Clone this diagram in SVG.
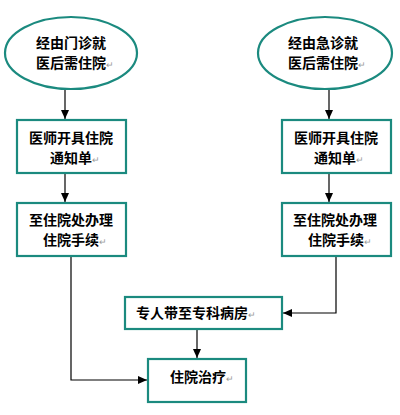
<svg xmlns="http://www.w3.org/2000/svg" width="400" height="415" viewBox="0 0 400 415">
<style>
.n{fill:#fff;stroke:#1b8a7f;stroke-width:2.2}
.t{font-family:"Noto Sans CJK SC","Noto Sans",sans-serif;font-size:14px;font-weight:bold;fill:#000}
.m{font-size:9px;font-weight:normal;fill:#9a9a9a}
.c{fill:none;stroke:#000;stroke-width:1.2}
</style>
<defs>
<marker id="a" markerWidth="10" markerHeight="10" refX="9" refY="5" orient="auto" markerUnits="userSpaceOnUse">
<path d="M0,1 L9,5 L0,9 Z" fill="#000"/>
</marker>
</defs>
<rect width="400" height="415" fill="#fff"/>
<g id="connectors">
<path class="c" d="M65,89 V119" marker-end="url(#a)"/>
<path class="c" d="M65,173 V202" marker-end="url(#a)"/>
<path class="c" d="M329,89 V119" marker-end="url(#a)"/>
<path class="c" d="M329,173 V202" marker-end="url(#a)"/>
<path class="c" d="M336,256 V313 H283" marker-end="url(#a)"/>
<path class="c" d="M71,256 V380 H147" marker-end="url(#a)"/>
<path class="c" d="M197,329 V358" marker-end="url(#a)"/>
</g>
<g id="start-left">
<ellipse class="n" cx="71" cy="53" rx="66" ry="36"/>
<text class="t" x="36" y="48">经由门诊就</text>
<text class="t" x="36" y="68">医后需住院<tspan class="m">↵</tspan></text>
</g>
<g id="start-right">
<ellipse class="n" cx="325" cy="53" rx="67" ry="36"/>
<text class="t" x="288" y="48">经由急诊就</text>
<text class="t" x="288" y="68">医后需住院<tspan class="m">↵</tspan></text>
</g>
<g id="notice-left">
<rect class="n" x="17" y="120" width="109" height="53"/>
<text class="t" x="29" y="143">医师开具住院</text>
<text class="t" x="50" y="163">通知单<tspan class="m">↵</tspan></text>
</g>
<g id="notice-right">
<rect class="n" x="282" y="120" width="109" height="53"/>
<text class="t" x="294" y="143">医师开具住院</text>
<text class="t" x="314" y="163">通知单<tspan class="m">↵</tspan></text>
</g>
<g id="admit-left">
<rect class="n" x="17" y="203" width="109" height="53"/>
<text class="t" x="29" y="225">至住院处办理</text>
<text class="t" x="43" y="245">住院手续<tspan class="m">↵</tspan></text>
</g>
<g id="admit-right">
<rect class="n" x="282" y="203" width="109" height="53"/>
<text class="t" x="293" y="225">至住院处办理</text>
<text class="t" x="308" y="245">住院手续<tspan class="m">↵</tspan></text>
</g>
<g id="escort">
<rect class="n" x="125" y="297" width="157" height="32"/>
<text class="t" x="136" y="318">专人带至专科病房<tspan class="m">↵</tspan></text>
</g>
<g id="treatment">
<rect class="n" x="148" y="359" width="98" height="43"/>
<text class="t" x="170" y="382">住院治疗<tspan class="m">↵</tspan></text>
</g>
</svg>
